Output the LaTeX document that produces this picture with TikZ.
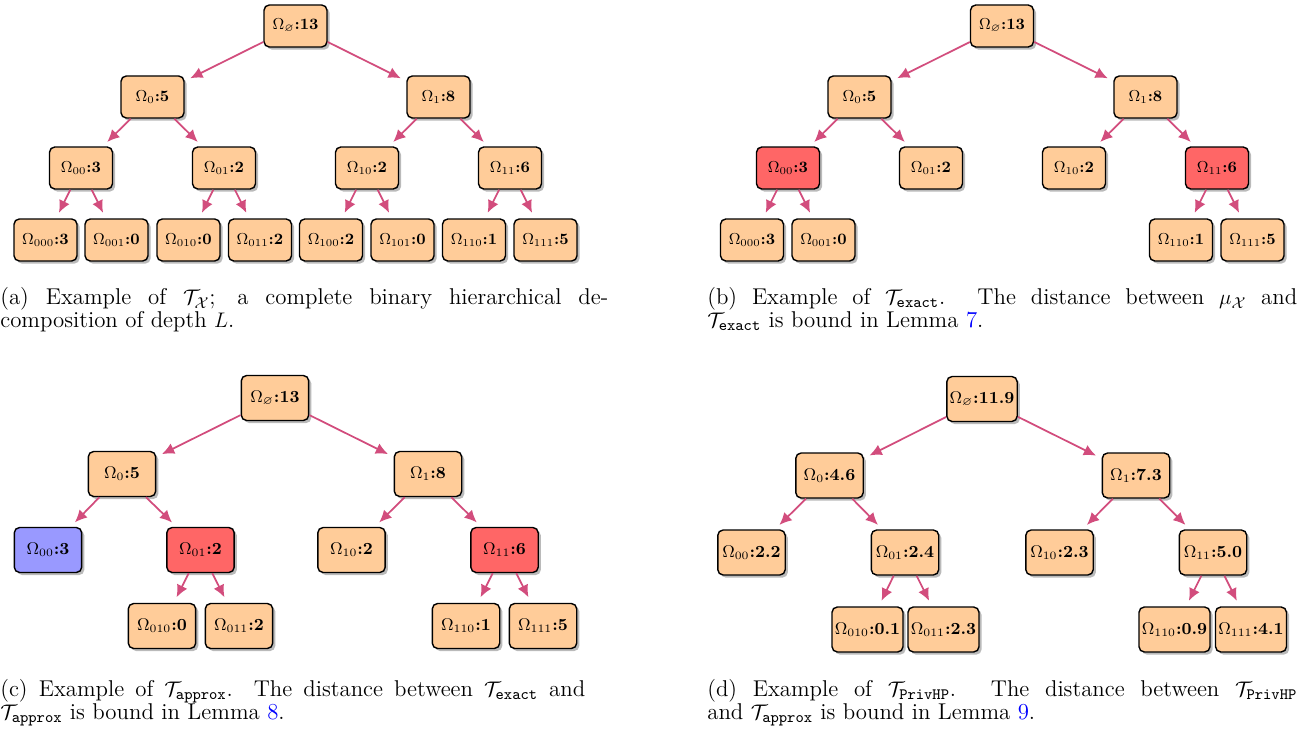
\documentclass[tikz,border=0pt]{standalone}
\usepackage{amsmath,amssymb}
\usepackage{tikz}
\usetikzlibrary{shadows,arrows.meta}

\definecolor{peach}{HTML}{FFCC99}
\definecolor{hot}{HTML}{FF6666}
\definecolor{lila}{HTML}{9999FF}
\definecolor{rosa}{HTML}{D24D7D}
\definecolor{lnk}{HTML}{0000FF}
\newcommand{\omlab}[2]{$\Omega_{#1}$\textbf{:#2}}

\begin{document}
\begin{tikzpicture}[x=0.02cm, y=-0.02cm,
    tn/.style={draw, thick, rounded corners=3pt, fill=peach, minimum width=1.26cm,
      minimum height=0.84cm, inner sep=1.5pt, font=\fontsize{9}{10}\selectfont,
      drop shadow={shadow xshift=1.5pt, shadow yshift=-1.5pt, fill=black!60, opacity=0.45}},
    arr/.style={rosa, line width=1pt, -{Latex[length=7pt,width=6.5pt]}, shorten >=3.5pt},
    captxt/.style={anchor=north west, align=justify, inner sep=0pt, font=\fontsize{13}{13.2}\selectfont}]
    \useasboundingbox (0,0) rectangle (1309,736);

    \node[tn] (a)    at (295.5,26) {\omlab{\varnothing}{13}};
    \node[tn] (a0)   at (152.5,97) {\omlab{0}{5}};
    \node[tn] (a1)   at (438.5,97) {\omlab{1}{8}};
    \node[tn] (a00)  at (81,168)   {\omlab{00}{3}};
    \node[tn] (a01)  at (224,168)  {\omlab{01}{2}};
    \node[tn] (a10)  at (367,168)  {\omlab{10}{2}};
    \node[tn] (a11)  at (510,168)  {\omlab{11}{6}};
    \node[tn] (a000) at (45.5,240) {\omlab{000}{3}};
    \node[tn] (a001) at (116.5,240) {\omlab{001}{0}};
    \node[tn] (a010) at (188.5,240) {\omlab{010}{0}};
    \node[tn] (a011) at (260,240)  {\omlab{011}{2}};
    \node[tn] (a100) at (331,240)  {\omlab{100}{2}};
    \node[tn] (a101) at (402.5,240) {\omlab{101}{0}};
    \node[tn] (a110) at (474,240)  {\omlab{110}{1}};
    \node[tn] (a111) at (545.5,240) {\omlab{111}{5}};
    \foreach \p/\c in {a/a0,a/a1,a0/a00,a0/a01,a1/a10,a1/a11,a00/a000,a00/a001,
      a01/a010,a01/a011,a10/a100,a10/a101,a11/a110,a11/a111}
      \draw[arr] (\p) -- (\c);

    \node[tn] (b)    at (1002,26)  {\omlab{\varnothing}{13}};
    \node[tn] (b0)   at (859.5,97) {\omlab{0}{5}};
    \node[tn] (b1)   at (1145.5,97) {\omlab{1}{8}};
    \node[tn, fill=hot] (b00) at (788,168) {\omlab{00}{3}};
    \node[tn] (b01)  at (931,168)  {\omlab{01}{2}};
    \node[tn] (b10)  at (1074,168) {\omlab{10}{2}};
    \node[tn, fill=hot] (b11) at (1217,168) {\omlab{11}{6}};
    \node[tn] (b000) at (752,240)  {\omlab{000}{3}};
    \node[tn] (b001) at (823.5,240) {\omlab{001}{0}};
    \node[tn] (b110) at (1181,240) {\omlab{110}{1}};
    \node[tn] (b111) at (1252.5,240) {\omlab{111}{5}};
    \foreach \p/\c in {b/b0,b/b1,b0/b00,b0/b01,b1/b10,b1/b11,b00/b000,b00/b001,
      b11/b110,b11/b111}
      \draw[arr] (\p) -- (\c);

    \begin{scope}[every node/.append style={scale=1.07}]
    \node[tn] (c)    at (275,398)  {\omlab{\varnothing}{13}};
    \node[tn] (c0)   at (122,474)  {\omlab{0}{5}};
    \node[tn] (c1)   at (428,474)  {\omlab{1}{8}};
    \node[tn, fill=lila] (c00) at (48,550) {\omlab{00}{3}};
    \node[tn, fill=hot] (c01)  at (200.5,550) {\omlab{01}{2}};
    \node[tn] (c10)  at (351.5,550) {\omlab{10}{2}};
    \node[tn, fill=hot] (c11)  at (504.5,550) {\omlab{11}{6}};
    \node[tn] (c010) at (162,626)  {\omlab{010}{0}};
    \node[tn] (c011) at (239,626)  {\omlab{011}{2}};
    \node[tn] (c110) at (466,626)  {\omlab{110}{1}};
    \node[tn] (c111) at (543,626)  {\omlab{111}{5}};

    \node[tn] (d)    at (982,399)  {\omlab{\varnothing}{11.9}};
    \node[tn] (d0)   at (829.5,475.5) {\omlab{0}{4.6}};
    \node[tn] (d1)   at (1136,475.5) {\omlab{1}{7.3}};
    \node[tn] (d00)  at (751.5,552.5) {\omlab{00}{2.2}};
    \node[tn] (d01)  at (905,552.5) {\omlab{01}{2.4}};
    \node[tn] (d10)  at (1059.5,552.5) {\omlab{10}{2.3}};
    \node[tn] (d11)  at (1213,552.5) {\omlab{11}{5.0}};
    \node[tn] (d010) at (867.5,629.5) {\omlab{010}{0.1}};
    \node[tn] (d011) at (943.5,629.5) {\omlab{011}{2.3}};
    \node[tn] (d110) at (1174.5,629.5) {\omlab{110}{0.9}};
    \node[tn] (d111) at (1251,629.5) {\omlab{111}{4.1}};
    \end{scope}
    \foreach \p/\c in {c/c0,c/c1,c0/c00,c0/c01,c1/c10,c1/c11,c01/c010,c01/c011,
      c11/c110,c11/c111,d/d0,d/d1,d0/d00,d0/d01,d1/d10,d1/d11,d01/d010,d01/d011,
      d11/d110,d11/d111}
      \draw[arr] (\p) -- (\c);

    \node[captxt, text width=12.16cm] (capa) at (0,287)
      {(a) Example of $\mathcal{T}_{\mathcal{X}}$; a complete binary hierarchical de-\linebreak composition of depth $L$.};
    \node[captxt, text width=11.8cm] (capb) at (707,287)
      {(b) Example of $\mathcal{T}_{\mathtt{exact}}$. The distance between $\mu_{\mathcal{X}}$ and\linebreak $\mathcal{T}_{\mathtt{exact}}$ is bound in Lemma \textcolor{lnk}{7}.};
    \node[captxt, text width=11.7cm] (capc) at (0,679)
      {(c) Example of $\mathcal{T}_{\mathtt{approx}}$. The distance between $\mathcal{T}_{\mathtt{exact}}$ and\linebreak $\mathcal{T}_{\mathtt{approx}}$ is bound in Lemma \textcolor{lnk}{8}.};
    \node[captxt, text width=11.8cm] (capd) at (707,679)
      {(d) Example of $\mathcal{T}_{\mathtt{PrivHP}}$. The distance between $\mathcal{T}_{\mathtt{PrivHP}}$\linebreak and $\mathcal{T}_{\mathtt{approx}}$ is bound in Lemma \textcolor{lnk}{9}.};
\end{tikzpicture}
\end{document}
